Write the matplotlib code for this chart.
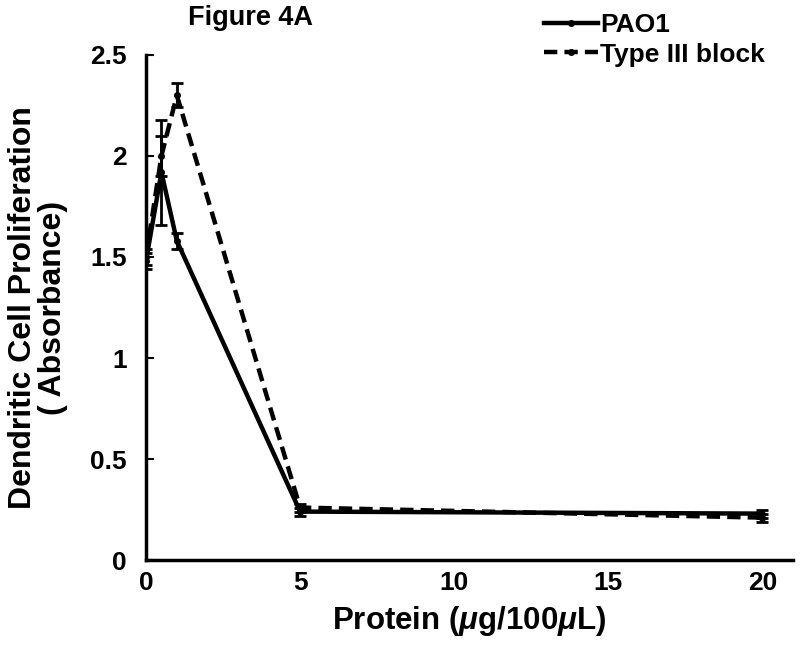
import matplotlib
matplotlib.use("Agg")
import matplotlib.pyplot as plt

# Data
protein = [0, 0.5, 1, 5, 20]
pao1 = [1.48, 1.92, 1.58, 0.24, 0.23]
pao1_err = [0.04, 0.26, 0.04, 0.02, 0.02]
type3 = [1.50, 2.00, 2.30, 0.26, 0.21]
type3_err = [0.04, 0.10, 0.06, 0.02, 0.02]

x_ticks = [0, 5, 10, 15, 20]
y_ticks = [0, 0.5, 1, 1.5, 2, 2.5]
y_tick_labels = ["0", "0.5", "1", "1.5", "2", "2.5"]

plt.rcParams['font.family'] = ['Liberation Sans', 'DejaVu Sans']
plt.rcParams['font.weight'] = 'bold'
plt.rcParams['mathtext.fontset'] = 'custom'
plt.rcParams['mathtext.it'] = 'Liberation Sans:italic:bold'
plt.rcParams['mathtext.rm'] = 'Liberation Sans:bold'

fig = plt.figure(figsize=(8, 6.46), dpi=100)
ax = fig.add_axes([0.1825, 0.133, 0.809, 0.782])

# error bars first, then the lines (legend uses lines only)
ax.errorbar(protein, pao1, yerr=pao1_err, fmt='none', ecolor='black',
            capsize=4, elinewidth=2, capthick=2)
ax.errorbar(protein, type3, yerr=type3_err, fmt='none', ecolor='black',
            capsize=4, elinewidth=2, capthick=2)
ax.plot(protein, pao1, color='black', lw=3.2, ls='-', marker='o', ms=4, label='PAO1')
ax.plot(protein, type3, color='black', lw=3.2, ls=(0, (3, 1.6)), marker='o', ms=4,
        label='Type III block')

ax.set_xlim(0, 21)
ax.set_ylim(0, 2.5)
ax.set_xticks(x_ticks)
ax.set_yticks(y_ticks)
ax.set_yticklabels(y_tick_labels)
ax.tick_params(axis='both', direction='in', length=6, width=1.5, labelsize=19, pad=14)
ax.tick_params(axis='x', length=0, pad=8)
for s in ['top', 'right']:
    ax.spines[s].set_visible(False)
for s in ['left', 'bottom']:
    ax.spines[s].set_linewidth(2.5)

ax.set_xlabel(r'Protein ($\mu$g/100$\mu$L)', fontsize=22.5, fontweight='bold', labelpad=6)
ax.set_ylabel('Dendritic Cell Proliferation\n( Absorbance)', fontsize=23,
              fontweight='bold', labelpad=16, linespacing=1.0)

fig.text(0.3125, 0.972, 'Figure 4A', fontsize=19.5, fontweight='bold', ha='center', va='center')

leg = ax.legend(loc='upper left', bbox_to_anchor=(0.598, 1.103), frameon=False,
                fontsize=19, handlelength=2.05, handletextpad=0.1, labelspacing=0.2,
                borderaxespad=0)

fig.savefig('out.png', dpi=100)
